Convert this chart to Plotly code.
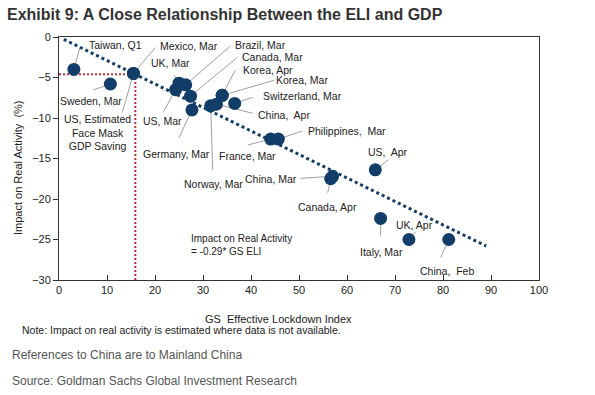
import plotly.graph_objects as go

# ---- data ----
LABELS = ["Taiwan, Q1", "Sweden, Mar", "US, Estimated<br>Face Mask<br>GDP Saving", "Mexico, Mar",
          "UK, Mar", "Brazil, Mar", "Canada, Mar", "Korea, Apr", "Korea, Mar", "Switzerland, Mar",
          "US, Mar", "Germany, Mar", "Norway, Mar", "China,  Apr", "France, Mar", "Philippines,  Mar",
          "China, Mar", "Canada, Apr", "US,  Apr", "Italy, Mar", "UK, Apr", "China,  Feb"]
ELI = [3.1, 10.7, 15.5, 15.5, 25.0, 26.4, 27.4, 34.0, 34.0, 36.6,
       24.3, 27.7, 31.6, 32.8, 44.1, 45.7, 57.0, 56.6, 65.9, 67.0, 72.9, 81.2]
IMPACT = [-4.0, -5.8, -4.5, -4.5, -5.7, -5.9, -7.3, -7.2, -7.2, -8.2,
          -6.5, -9.0, -8.5, -8.3, -12.6, -12.6, -17.2, -17.5, -16.4, -22.4, -25.0, -25.0]

TREND_SLOPE = -0.29
TREND_X = [1, 89]
US_MASK_ELI = 15.9
US_MASK_IMPACT = -4.6

X_TICKS = [0, 10, 20, 30, 40, 50, 60, 70, 80, 90, 100]
Y_TICKS = [0, -5, -10, -15, -20, -25, -30]

# ---- label layout: text centre offset and leader start offset (pixels, y down) ----
TEXT_OFF = [(42, -24), (-19, 17), (-36, 59), (56, -27),
            (-9, -20), (75, -40), (82, -39), (46, -25), (80, -15), (68, -7),
            (-13, 31), (-15, 44), (3, 78), (68, 11), (-23, 17), (69, -8),
            (-62, 3), (-3, 28), (13, -18), (1, 34), (6, -15), (-2, 31)]
LINE_OFF = [(6, -22), (-17, 6), (-11, 39), (22, -26),
            (-5, -8), (45, -39), (47, -39), (13, -25), (52, -15), (18, -6),
            (-12, 22), (-13, 28), (2, 64), (36, 9), (-23, 6), (24, -8),
            (-32, 2), (-3, 14), (13, -10), (0, 17), (7, -8), (-8, 18)]

NAVY = "#123d68"
RED = "#b8333a"
GREY_LINE = "#a0a0a0"
FONT = "Arial, Liberation Sans, sans-serif"

fig = go.Figure()

# trend line
fig.add_trace(go.Scatter(x=TREND_X, y=[TREND_SLOPE * v for v in TREND_X], mode="lines",
                         line=dict(color=NAVY, width=3, dash="dot"), hoverinfo="skip",
                         showlegend=False))
# red dotted guides
fig.add_trace(go.Scatter(x=[0, US_MASK_ELI, US_MASK_ELI], y=[US_MASK_IMPACT, US_MASK_IMPACT, -30],
                         mode="lines", line=dict(color=RED, width=2, dash="2px,2px"),
                         hoverinfo="skip", showlegend=False))
# points
fig.add_trace(go.Scatter(x=ELI, y=IMPACT, mode="markers",
                         marker=dict(color=NAVY, size=13, line=dict(width=0)),
                         showlegend=False))

shapes = []
annotations = []
for lab, x, y, (tx, ty), (lx, ly) in zip(LABELS, ELI, IMPACT, TEXT_OFF, LINE_OFF):
    shapes.append(dict(type="line", xref="x", yref="y", xsizemode="pixel", ysizemode="pixel",
                       xanchor=x, yanchor=y, x0=lx, x1=0, y0=-ly, y1=0,
                       line=dict(color=GREY_LINE, width=1), layer="below"))
    annotations.append(dict(x=x, y=y, xref="x", yref="y", text=lab, showarrow=False,
                            xshift=tx, yshift=-ty, xanchor="center", yanchor="middle",
                            font=dict(family=FONT, size=10.5, color="#222222"), align="center"))

annotations.append(dict(x=27, y=-23.9, xref="x", yref="y", xanchor="left", yanchor="top",
                        text="Impact on Real Activity<br>= -0.29* GS ELI", showarrow=False,
                        align="left", font=dict(family=FONT, size=10, color="#222222")))

# titles and notes (paper coords; plot area 59..539 x 37..280)
def px(xp):
    return (xp - 59) / 480

def py(yp):
    return (280 - yp) / 243

annotations += [
    dict(x=px(5), y=py(14), xref="paper", yref="paper", xanchor="left", yanchor="middle",
         text="<b>Exhibit 9: A Close Relationship Between the ELI and GDP</b>", showarrow=False,
         font=dict(family=FONT, size=16, color="#333333")),
    dict(x=px(18), y=py(168), xref="paper", yref="paper", xanchor="center", yanchor="middle",
         text="Impact on Real Activity  (%)", textangle=-90, showarrow=False,
         font=dict(family=FONT, size=11, color="#222222")),
    dict(x=px(278), y=py(319), xref="paper", yref="paper", xanchor="center", yanchor="middle",
         text="GS  Effective Lockdown Index", showarrow=False,
         font=dict(family=FONT, size=11, color="#222222")),
    dict(x=px(20), y=py(330), xref="paper", yref="paper", xanchor="left", yanchor="middle",
         text="Note: Impact on real activity is estimated where data is not available.",
         showarrow=False, font=dict(family=FONT, size=10.5, color="#222222")),
    dict(x=px(10), y=py(355), xref="paper", yref="paper", xanchor="left", yanchor="middle",
         text="References to China are to Mainland China", showarrow=False,
         font=dict(family=FONT, size=12, color="#555555")),
    dict(x=px(10), y=py(381), xref="paper", yref="paper", xanchor="left", yanchor="middle",
         text="Source: Goldman Sachs Global Investment Research", showarrow=False,
         font=dict(family=FONT, size=12, color="#555555")),
]

fig.update_layout(
    width=595, height=395,
    margin=dict(l=59, r=56, t=37, b=115, pad=0),
    paper_bgcolor="white", plot_bgcolor="white",
    shapes=shapes, annotations=annotations,
    font=dict(family=FONT, size=11, color="#222222"),
    showlegend=False,
)
fig.update_xaxes(range=[0, 100], tickvals=X_TICKS, ticks="inside", ticklen=5, tickcolor="#333333",
                 showgrid=False, zeroline=False, showline=True, linecolor="#333333", linewidth=1,
                 mirror=True, tickfont=dict(family=FONT, size=11, color="#222222"))
fig.update_yaxes(range=[-30, 0], tickvals=Y_TICKS, ticks="outside", ticklen=5, tickcolor="#333333",
                 showgrid=False, zeroline=False, showline=True, linecolor="#333333", linewidth=1,
                 mirror=True, tickfont=dict(family=FONT, size=11, color="#222222"))

fig.write_html("out.html", config={"displayModeBar": False},
               post_script="document.body.style.margin='0px';")
